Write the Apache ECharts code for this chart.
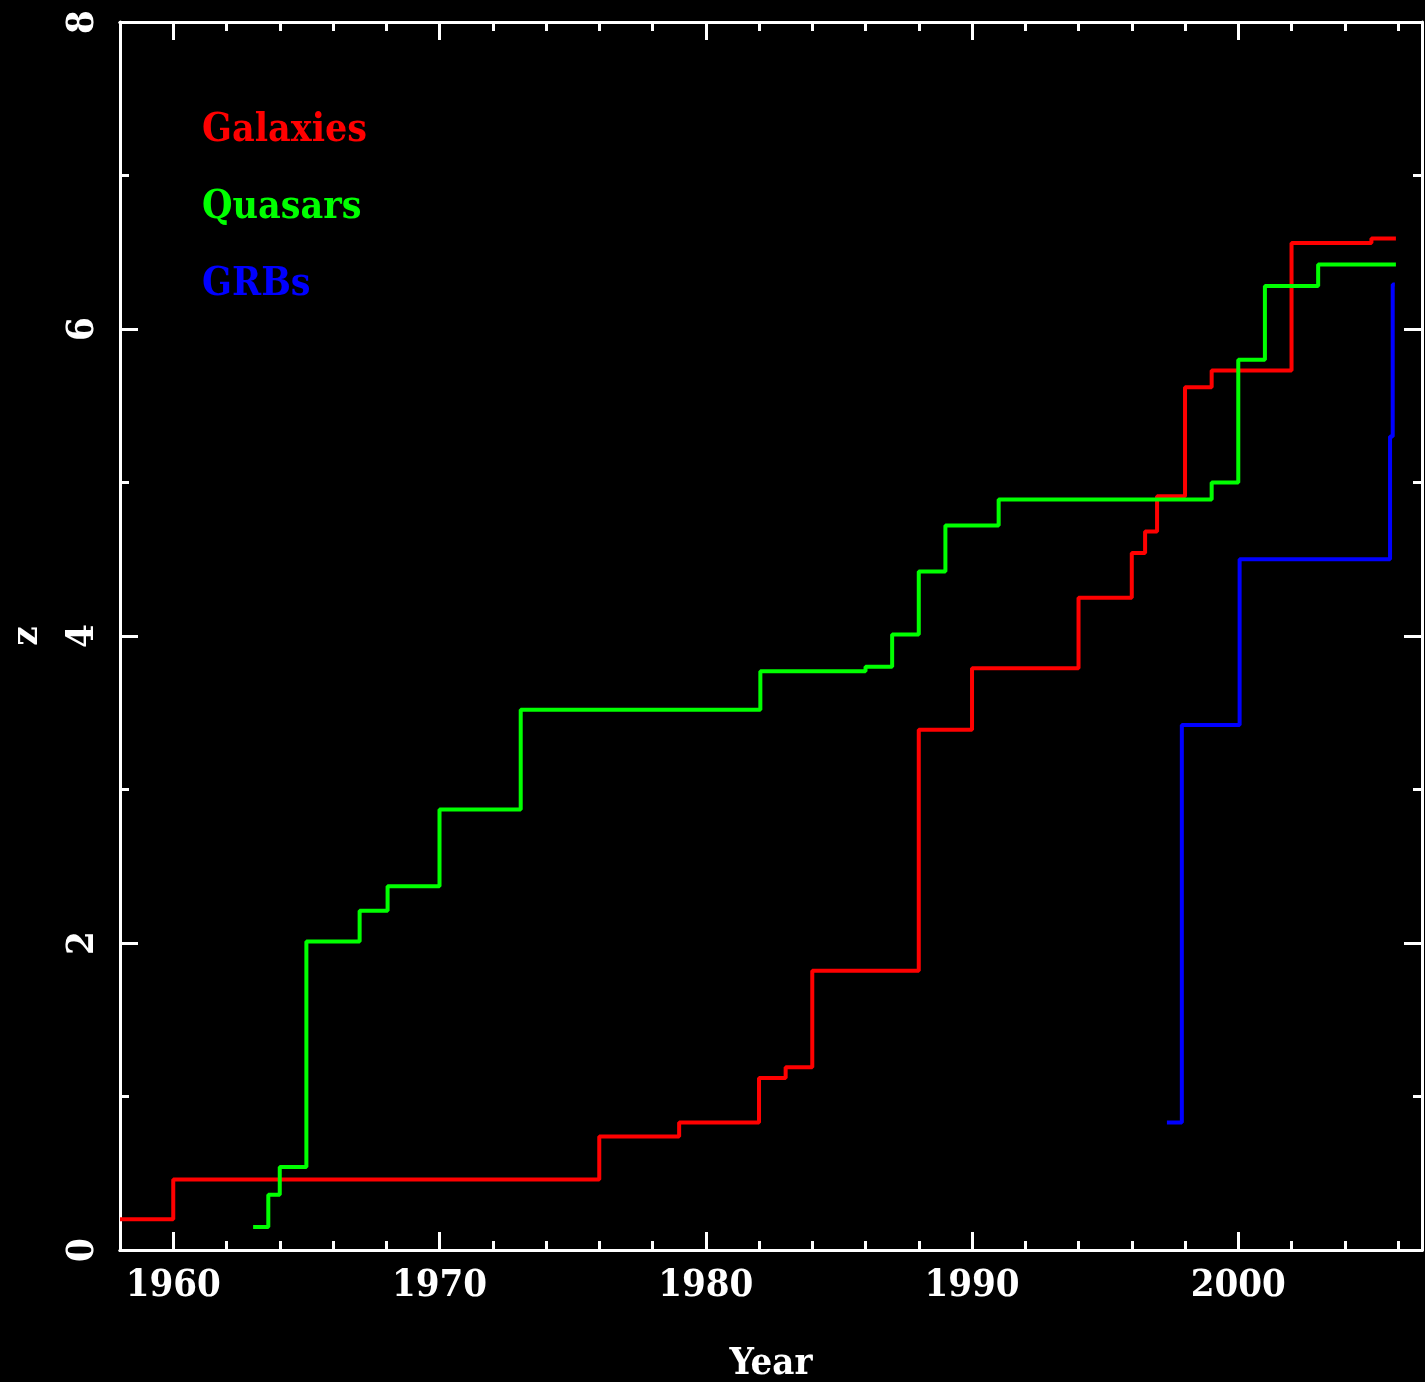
<!DOCTYPE html>
<html>
<head>
<meta charset="utf-8">
<title>Highest known redshift by year</title>
<script src="https://cdn.jsdelivr.net/npm/echarts@6/dist/echarts.min.js"></script>
<style>
  html, body { margin: 0; padding: 0; background: #000; }
  #chart { width: 1425px; height: 1382px; }
</style>
</head>
<body>
<div id="chart"></div>
<script>
// Record redshift held by each class of object, as a step function of year
const galaxyYears = [1958.0, 1960.0, 1976.0, 1979.0, 1982.0, 1983.0, 1984.0, 1988.0, 1990.0, 1994.0, 1996.0, 1996.5, 1996.95, 1998.0, 1999.0, 2002.0, 2005.0, 2005.92];
const galaxyZ     = [0.20,   0.46,   0.74,   0.83,   1.12,   1.19,   1.82,   3.39,   3.79,   4.25,   4.54,   4.68,   4.91,    5.62,   5.73,   6.56,   6.59,   6.59];

const quasarYears = [1963.0, 1963.57, 1964.0, 1965.0, 1967.0, 1968.05, 1970.0, 1973.05, 1982.05, 1986.0, 1987.0, 1988.0, 1989.0, 1991.0, 1999.0, 2000.0, 2001.0, 2003.0, 2005.92];
const quasarZ     = [0.15,   0.36,    0.54,   2.01,   2.21,   2.37,    2.87,   3.52,    3.77,    3.80,   4.01,   4.42,   4.72,   4.89,   5.00,   5.80,   6.28,   6.42,   6.42];

const grbYears = [1997.32, 1997.88, 2000.05, 2005.70, 2005.80, 2005.88];
const grbZ     = [0.83,    3.42,    4.50,    5.30,    6.29,    6.29];

const seriesNames  = ['Galaxies', 'Quasars', 'GRBs'];
const seriesColors = ['#ff0000', '#00ff00', '#0000ff'];

const yearTicks  = [1960, 1970, 1980, 1990, 2000];
const yearMin = 1958, yearMax = 2006.9;
const zMin = 0, zMax = 8;

const pairs = (xs, ys) => xs.map((x, i) => [x, ys[i]]);
const seriesData = [
  pairs(galaxyYears, galaxyZ),
  pairs(quasarYears, quasarZ),
  pairs(grbYears, grbZ)
];

const FONT = '"DejaVu Serif Condensed", "DejaVu Serif", serif';
const WHITE = '#ffffff';
const lineW = 3;
const FS = 38;

function xAxisBase(position, major) {
  const ax = {
    type: 'value',
    position: position,
    min: yearMin,
    max: yearMax,
    axisLine: { show: true, onZero: false, lineStyle: { color: WHITE, width: lineW } },
    splitLine: { show: false },
    axisTick: { show: true, inside: true, length: 9, lineStyle: { color: WHITE, width: lineW } },
    axisLabel: { show: false }
  };
  if (major) {
    ax.axisTick = { show: true, inside: true, length: 18, customValues: yearTicks,
                    lineStyle: { color: WHITE, width: lineW } };
  } else {
    ax.interval = 2;
  }
  return ax;
}

const xAxes = [
  xAxisBase('bottom', false),
  xAxisBase('bottom', true),
  xAxisBase('top', false),
  xAxisBase('top', true)
];
// labels and title on the bottom major axis
xAxes[1].axisLabel = {
  show: true, customValues: yearTicks, color: WHITE, fontFamily: FONT,
  fontWeight: 'bold', fontSize: FS, margin: 17,
  formatter: v => String(Math.round(v))
};
xAxes[1].name = 'Year';
xAxes[1].nameLocation = 'middle';
xAxes[1].nameGap = 95;
xAxes[1].nameTextStyle = { color: WHITE, fontFamily: FONT, fontWeight: 'bold', fontSize: FS };

function yAxisBase(position, withLabels) {
  return {
    type: 'value',
    position: position,
    min: zMin,
    max: zMax,
    interval: 2,
    axisLine: { show: true, onZero: false, lineStyle: { color: WHITE, width: lineW } },
    splitLine: { show: false },
    axisTick: { show: true, inside: true, length: 18, lineStyle: { color: WHITE, width: lineW } },
    minorTick: { show: true, splitNumber: 2, length: 9, lineStyle: { color: WHITE, width: lineW } },
    minorSplitLine: { show: false },
    axisLabel: withLabels ? {
      show: true, rotate: 90, color: WHITE, fontFamily: FONT, fontWeight: 'bold',
      fontSize: FS, margin: 18,
      formatter: v => String(Math.round(v))
    } : { show: false },
    name: withLabels ? 'z' : '',
    nameLocation: 'middle',
    nameRotate: 90,
    nameGap: 74,
    nameTextStyle: { color: WHITE, fontFamily: FONT, fontWeight: 'bold', fontSize: FS }
  };
}

const chart = echarts.init(document.getElementById('chart'), null, { renderer: 'canvas' });

chart.setOption({
  backgroundColor: '#000000',
  animation: false,
  grid: { left: 120, right: 3, top: 22, bottom: 132, containLabel: false, outerBoundsMode: 'none' },
  legend: {
    orient: 'vertical',
    left: 192,
    top: 106,
    itemWidth: 0,
    itemHeight: 0,
    itemGap: 37,
    selectedMode: false,
    data: seriesNames.map((n, i) => ({
      name: n,
      icon: 'rect',
      textStyle: { color: seriesColors[i] }
    })),
    textStyle: { fontFamily: FONT, fontWeight: 'bold', fontSize: FS + 1, lineHeight: 40 }
  },
  xAxis: xAxes,
  yAxis: [yAxisBase('left', true), yAxisBase('right', false)],
  series: seriesNames.map((n, i) => ({
    name: n,
    type: 'line',
    step: 'end',
    xAxisIndex: 0,
    yAxisIndex: 0,
    showSymbol: false,
    symbol: 'none',
    color: seriesColors[i],
    lineStyle: { color: seriesColors[i], width: 4 },
    data: seriesData[i]
  }))
});
</script>
</body>
</html>
